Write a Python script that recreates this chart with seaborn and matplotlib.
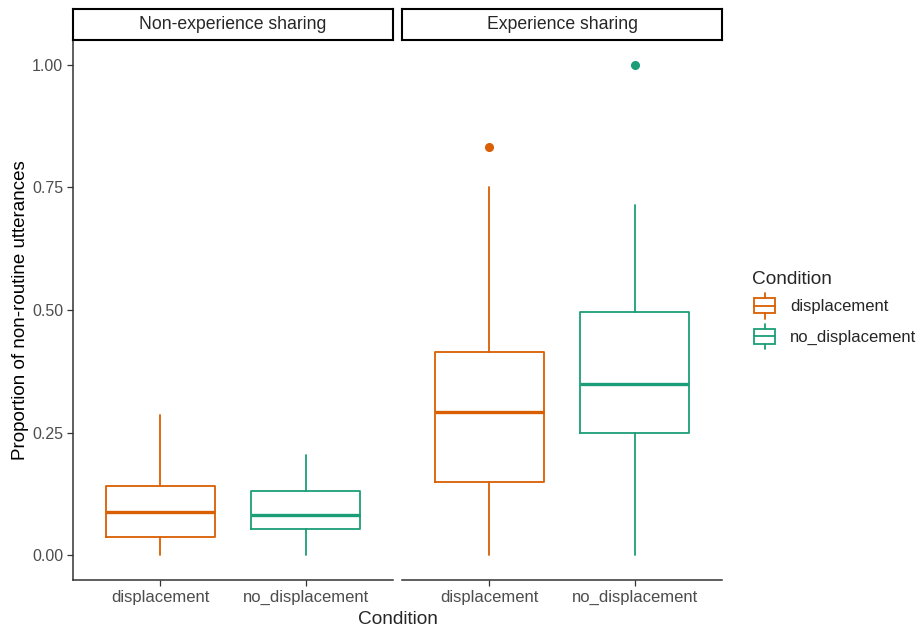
import numpy as np
import seaborn as sns
import matplotlib.pyplot as plt
from matplotlib.patches import Rectangle
from matplotlib.lines import Line2D
from matplotlib.legend_handler import HandlerBase

# box statistics
facets = ["Non-experience sharing", "Experience sharing"]
conditions = ["displacement", "no_displacement"]
palette = ["#D95F02", "#1B9E77"]

nonexp_lo = [0.0, 0.0]
nonexp_q1 = [0.038, 0.053]
nonexp_med = [0.088, 0.083]
nonexp_q3 = [0.142, 0.131]
nonexp_hi = [0.286, 0.204]
nonexp_out = [[], []]

exp_lo = [0.0, 0.0]
exp_q1 = [0.150, 0.250]
exp_med = [0.292, 0.349]
exp_q3 = [0.415, 0.495]
exp_hi = [0.750, 0.714]
exp_out = [[0.833], [1.0]]

yticks = [0.0, 0.25, 0.5, 0.75, 1.0]

sns.set_theme(style="ticks")
plt.rcParams["font.family"] = ["Liberation Sans", "DejaVu Sans"]

fig = plt.figure(figsize=(9.21, 6.28), dpi=100)

panel_x = [73 / 921, 402 / 921]
panel_w = 320 / 921
bottom = 1 - 580 / 628
height = 540 / 628
strip_h = 31 / 628

stats_by_facet = [
    (nonexp_lo, nonexp_q1, nonexp_med, nonexp_q3, nonexp_hi, nonexp_out),
    (exp_lo, exp_q1, exp_med, exp_q3, exp_hi, exp_out),
]

tick_col = "#4D4D4D"

for i, (name, st) in enumerate(zip(facets, stats_by_facet)):
    ax = fig.add_axes([panel_x[i], bottom, panel_w, height])
    lo, q1, med, q3, hi, out = st
    for j, c in enumerate(palette):
        s = [dict(whislo=lo[j], q1=q1[j], med=med[j], q3=q3[j], whishi=hi[j],
                  fliers=out[j])]
        ax.bxp(s, positions=[j + 1], widths=0.75, showcaps=False,
               boxprops=dict(color=c, lw=1.3),
               whiskerprops=dict(color=c, lw=1.3),
               medianprops=dict(color=c, lw=2.4),
               flierprops=dict(marker="o", markersize=5.5, markerfacecolor=c,
                               markeredgecolor=c))
    ax.set_xlim(0.4, 2.6)
    ax.set_ylim(-0.05, 1.05)
    ax.set_xticks([1, 2])
    ax.set_xticklabels(conditions, fontsize=12, color=tick_col)
    ax.tick_params(axis="both", length=4, width=0.9, color="#333333", pad=3)
    for sp in ["top", "right"]:
        ax.spines[sp].set_visible(False)
    ax.spines["bottom"].set_color("#333333")
    ax.spines["bottom"].set_linewidth(1.1)
    if i == 0:
        ax.set_yticks(yticks)
        ax.set_yticklabels([f"{t:.2f}" for t in yticks], fontsize=11.5, color=tick_col)
        ax.spines["left"].set_color("#333333")
        ax.spines["left"].set_linewidth(1.1)
        ax.set_ylabel("Proportion of non-routine utterances", fontsize=13.5, color="black",
                      labelpad=2)
    else:
        ax.set_yticks([])
        ax.spines["left"].set_visible(False)

    # facet strip
    sax = fig.add_axes([panel_x[i], bottom + height, panel_w, strip_h])
    sax.set_xticks([])
    sax.set_yticks([])
    for sp in sax.spines.values():
        sp.set_visible(True)
        sp.set_color("black")
        sp.set_linewidth(1.5)
    sax.text(0.5, 0.5, name, ha="center", va="center", fontsize=12.7,
             transform=sax.transAxes)

fig.text((73 + 722) / 2 / 921, 1 - 620 / 628, "Condition", ha="center", va="center",
         fontsize=13.7)


class BoxHandler(HandlerBase):
    def create_artists(self, legend, orig_handle, xdescent, ydescent, width, height,
                       fontsize, trans):
        c = orig_handle.get_color()
        x0, y0 = -xdescent, -ydescent
        bx0, bx1 = x0 + 0.05 * width, x0 + 0.95 * width
        by0, by1 = y0 + 0.2 * height, y0 + 0.8 * height
        xm = x0 + 0.5 * width
        arts = [
            Rectangle((bx0, by0), bx1 - bx0, by1 - by0, facecolor="white",
                      edgecolor=c, lw=1.3, transform=trans),
            Line2D([bx0, bx1], [y0 + 0.5 * height] * 2, color=c, lw=1.3, transform=trans),
            Line2D([xm, xm], [y0, by0], color=c, lw=1.3, transform=trans),
            Line2D([xm, xm], [by1, y0 + height], color=c, lw=1.3, transform=trans),
        ]
        return arts


handles = [Line2D([], [], color=c) for c in palette]
leg = fig.legend(handles, conditions, title="Condition", loc="upper left",
                 bbox_to_anchor=(0.817, 0.568), frameon=False, fontsize=12,
                 title_fontsize=13.7, handler_map={Line2D: BoxHandler()},
                 handlelength=1.45, handleheight=1.95, handletextpad=0.8,
                 labelspacing=0.3, borderaxespad=0, borderpad=0)
leg._legend_box.align = "left"

fig.savefig("out.png", dpi=100)
